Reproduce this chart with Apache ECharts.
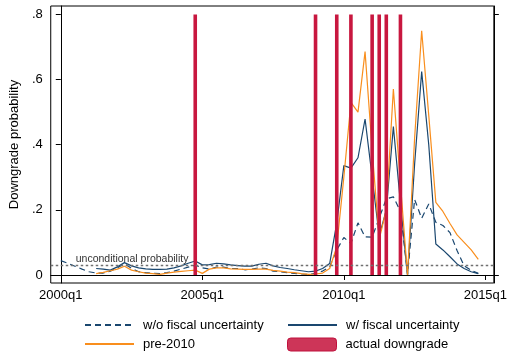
<!DOCTYPE html>
<html><head><meta charset="utf-8">
<script src="https://cdn.jsdelivr.net/npm/echarts@6/dist/echarts.min.js"></script>
<style>html,body{margin:0;padding:0;background:#fff}#c{width:510px;height:358px}</style>
</head><body><div id="c"></div>
<script>
// quarter index: 0 = 2000q1 ... 59 = 2014q4
const woFiscal = [0.044,0.036,0.027,0.018,0.010,0.006,0.006,0.012,0.022,0.035,
  0.020,0.010,0.007,0.005,0.004,0.007,0.012,0.018,0.024,0.030,
  0.022,0.018,0.024,0.024,0.020,0.020,0.016,0.018,0.022,0.020,
  0.012,0.010,0.007,0.005,0.003,0.002,0.005,0.012,0.025,0.077,
  0.115,0.097,0.160,0.117,0.116,0.175,0.234,0.240,0.195,0.002,
  0.232,0.174,0.218,0.162,0.152,0.130,0.075,0.028,0.014,0.005];
const wFiscal = [null,null,null,null,null,0.020,0.018,0.015,0.025,0.038,
  0.028,0.022,0.019,0.017,0.017,0.018,0.022,0.028,0.036,0.043,
  0.031,0.032,0.036,0.034,0.031,0.029,0.027,0.027,0.033,0.036,
  0.028,0.023,0.020,0.016,0.013,0.010,0.012,0.020,0.035,0.160,
  0.336,0.328,0.360,0.479,0.300,0.120,0.200,0.456,0.220,0.000,
  0.340,0.625,0.400,0.095,0.077,0.056,0.034,0.020,0.010,0.004];
const pre2010 = [null,null,null,null,null,0.004,0.008,0.013,0.018,0.027,
  0.015,0.010,0.006,0.004,0.002,0.006,0.009,0.011,0.013,0.015,
  0.005,0.018,0.022,0.022,0.019,0.018,0.017,0.017,0.018,0.018,
  0.014,0.012,0.009,0.007,0.004,0.002,0.003,0.006,0.020,0.087,
  0.300,0.530,0.500,0.686,0.384,0.110,0.200,0.571,0.280,0.000,
  0.420,0.750,0.490,0.223,0.195,0.158,0.123,0.100,0.077,0.048];
const downgradeQ = [19,36,39,41,44,45,46,48];
const downgradeTop = 0.8;
const uncondProb = 0.032;
const xTickValues = [0,20,40,60];
const xTickLabels = ['2000q1','2005q1','2010q1','2015q1'];
const yTickValues = [0,0.2,0.4,0.6,0.8];
const yTickLabels = ['0','.2','.4','.6','.8'];

const FONT = 'Liberation Sans, Arial, sans-serif';
const NAVY = '#1a476f', ORANGE = '#f98e1d', RED = '#c8173f';
const toPairs = arr => arr.map((v,i)=>[i,v]).filter(p=>p[1]!==null);

const chart = echarts.init(document.getElementById('c'), null, {renderer:'canvas'});
const legendBase = (name, left, top) => ({
  data:[name], left:left, top:top, padding:0, itemWidth:49, itemHeight:13,
  textStyle:{fontFamily:FONT, fontSize:13, color:'#000', padding:[0,0,0,4]},
  itemStyle:{color:'transparent', borderWidth:0, opacity:0},
  selectedMode:false
});
chart.setOption({
  animation:false,
  backgroundColor:'#fff',
  grid:{left:48, right:14, top:6, bottom:75, show:true, borderColor:'#000', borderWidth:1, backgroundColor:'#fff'},
  xAxis:{type:'value', min:-1.42, max:61.2,
    axisLine:{show:true, lineStyle:{color:'#000', width:1}},
    axisTick:{show:true, length:5, lineStyle:{color:'#000'}, customValues:xTickValues},
    axisLabel:{customValues:xTickValues, fontFamily:FONT, fontSize:13, color:'#000', margin:6,
      formatter:v=>xTickLabels[xTickValues.indexOf(v)]},
    splitLine:{show:false}},
  yAxis:[{type:'value', min:-0.0246, max:0.826, position:'left',
    name:'Downgrade probability', nameLocation:'middle', nameGap:21,
    nameTextStyle:{fontFamily:FONT, fontSize:13, color:'#000'},
    axisLine:{show:true, lineStyle:{color:'#000'}},
    axisTick:{show:true, length:5, lineStyle:{color:'#000'}, customValues:yTickValues},
    axisLabel:{customValues:yTickValues, fontFamily:FONT, fontSize:13, color:'#000', margin:8,
      formatter:v=>yTickLabels[yTickValues.findIndex(t=>Math.abs(t-v)<1e-9)]},
    splitLine:{show:false}},
   {type:'value', min:-0.0246, max:0.826, position:'right',
    axisLine:{show:true, lineStyle:{color:'#000'}},
    axisTick:{show:true, length:5, lineStyle:{color:'#000'}, customValues:[0,0.8]},
    axisLabel:{show:false}, splitLine:{show:false}}],
  legend:[
    legendBase('w/o fiscal uncertainty', 84, 318.5),
    legendBase('w/ fiscal uncertainty', 287, 318.5),
    legendBase('pre-2010', 84, 337.5),
    Object.assign(legendBase('actual downgrade', 287, 337.5),
      {itemStyle:{color:'#cd3558', borderColor:'#c0103c', borderWidth:1, opacity:1}})
  ],
  series:[
    {name:'w/o fiscal uncertainty', type:'line', data:toPairs(woFiscal), symbol:'none', z:3,
     lineStyle:{color:NAVY, width:1.2, type:[6,4]}, itemStyle:{color:NAVY},
     markLine:{silent:true, symbol:['none','none'],
       lineStyle:{color:'#707070', width:1.3, type:[2.5,2.5]},
       label:{show:true, position:'insideStartTop', distance:[25,1], formatter:'unconditional probability',
         fontFamily:FONT, fontSize:10.5, color:'#333'},
       data:[{yAxis:uncondProb}]}},
    {name:'w/ fiscal uncertainty', type:'line', data:toPairs(wFiscal), symbol:'none', z:3,
     lineStyle:{color:NAVY, width:1.2}, itemStyle:{color:NAVY}},
    {name:'pre-2010', type:'line', data:toPairs(pre2010), symbol:'none', z:3,
     lineStyle:{color:ORANGE, width:1.2}, itemStyle:{color:ORANGE}},
    {name:'actual downgrade', type:'bar', data:downgradeQ.map(q=>[q,downgradeTop]), barWidth:3.6, z:4,
     itemStyle:{color:RED}}
  ]
});
</script></body></html>
